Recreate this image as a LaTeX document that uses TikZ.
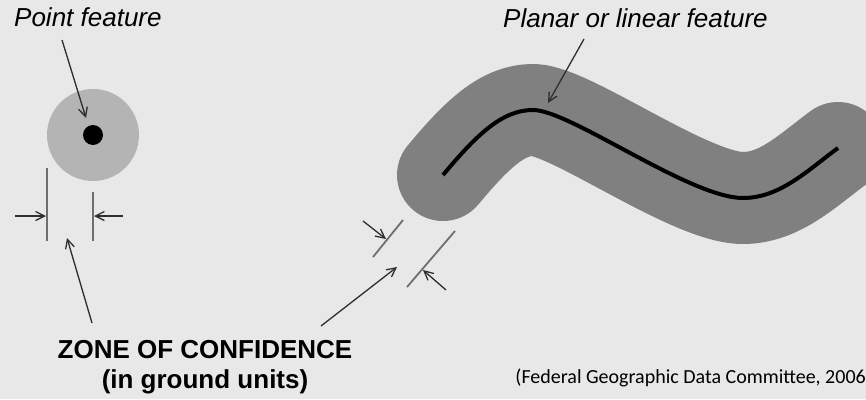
\documentclass[tikz,border=0pt]{standalone}
\usepackage{fontspec}
\setmainfont{Liberation Sans}
\newfontfamily\citefont{Carlito}
\usetikzlibrary{arrows.meta}
\definecolor{bg}{HTML}{E8E8E8}
\definecolor{lightzone}{HTML}{B4B4B4}
\definecolor{darkzone}{HTML}{808080}
\definecolor{pointer}{HTML}{2E2E2E}
\definecolor{tick}{HTML}{6E6E6E}
\tikzset{
  pointerline/.style={draw=pointer, line width=1.3pt, -{Straight Barb[length=9pt,width=9pt,line width=1.3pt]}},
  dimline/.style={draw=tick, line width=1.8pt},
  label/.style={inner sep=0pt, font=\fontsize{26}{30}\selectfont\itshape},
  zonetext/.style={inner sep=0pt, font=\fontsize{26}{30}\selectfont\bfseries},
}
\begin{document}
\begin{tikzpicture}[x=1pt,y=-1pt]
\fill[bg] (0,0) rectangle (866,399);
\useasboundingbox (0,0) rectangle (866,399);
\begin{scope}
\clip (0,0) rectangle (866,399);
% point feature
\node[circle, fill=lightzone, minimum size=92pt, inner sep=0pt] (zone) at (93,135) {};
\node[circle, fill=black, minimum size=20pt, inner sep=0pt] (pt) at (93,135) {};
\node[label, anchor=base west] (ptlabel) at (14,26) {Point feature};
\coordinate (pa1) at (62,40);
\coordinate (pa2) at (86,118);
\draw[pointerline] (pa1) -- (pa2);
% dimension lines for point
\coordinate (v1a) at (47,168); \coordinate (v1b) at (47,241);
\coordinate (v2a) at (93,192); \coordinate (v2b) at (93,241);
\draw[dimline] (v1a) -- (v1b);
\draw[dimline] (v2a) -- (v2b);
\coordinate (h1a) at (15,216); \coordinate (h1b) at (46,216);
\coordinate (h2a) at (123,216); \coordinate (h2b) at (94,216);
\draw[pointerline] (h1a) -- (h1b);
\draw[pointerline] (h2a) -- (h2b);
% linear feature
\coordinate (l0) at (443,175);
\coordinate (l1) at (533,110);
\coordinate (l2) at (743,198);
\coordinate (l3) at (838,148);
\draw[darkzone, line width=92pt, line cap=round, line join=round]
  (l0) .. controls (478,133) and (503,110) .. (l1)
  .. controls (570,110) and (690,198) .. (l2)
  .. controls (780,198) and (808,170) .. (l3);
\draw[black, line width=4pt]
  (l0) .. controls (478,133) and (503,110) .. (l1)
  .. controls (570,110) and (690,198) .. (l2)
  .. controls (780,198) and (808,170) .. (l3);
\node[label, anchor=base west] (linlabel) at (503,27) {Planar or linear feature};
\coordinate (la1) at (584,39);
\coordinate (la2) at (548,103);
\draw[pointerline] (la1) -- (la2);
% dimension lines for linear
\coordinate (d1a) at (403,220); \coordinate (d1b) at (373,257);
\coordinate (d2a) at (455,231); \coordinate (d2b) at (407,287);
\draw[dimline] (d1a) -- (d1b);
\draw[dimline] (d2a) -- (d2b);
\coordinate (e1a) at (363,221); \coordinate (e1b) at (386,239);
\coordinate (e2a) at (446,290); \coordinate (e2b) at (423,270);
\draw[pointerline] (e1a) -- (e1b);
\draw[pointerline] (e2a) -- (e2b);
% zone of confidence label
\node[zonetext, anchor=base] (zone1) at (205,358) {ZONE OF CONFIDENCE};
\node[zonetext, anchor=base] (zone2) at (205,388) {(in ground units)};
\coordinate (z1a) at (92,323); \coordinate (z1b) at (67,238);
\coordinate (z2a) at (321,326); \coordinate (z2b) at (397,267);
\draw[pointerline] (z1a) -- (z1b);
\draw[pointerline] (z2a) -- (z2b);
% citation
\node[inner sep=0pt, anchor=base east, font=\citefont\fontsize{20}{24}\selectfont] (cite) at (866,383) {(Federal Geographic Data Committee, 2006};
\end{scope}
\end{tikzpicture}
\end{document}
